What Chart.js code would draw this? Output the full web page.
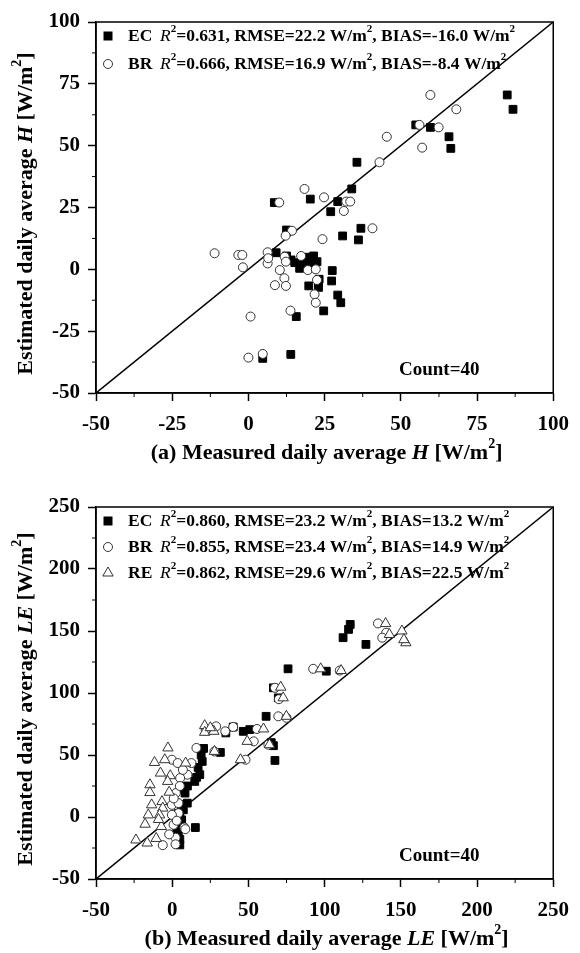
<!DOCTYPE html>
<html>
<head>
<meta charset="utf-8">
<script src="https://cdn.jsdelivr.net/npm/chart.js@4.4.0/dist/chart.umd.min.js"></script>
<style>
body { margin: 0; background: #fff; overflow: hidden; }
.panel { position: absolute; left: 0; }
</style>
</head>
<body>
<canvas id="chartH" class="panel" style="top:0" width="580" height="476"></canvas>
<canvas id="chartLE" class="panel" style="top:476px" width="580" height="477"></canvas>
<script>
// ---- panel (a): sensible heat H ----
var hTicks = [-50, -25, 0, 25, 50, 75, 100];
var hEcX = [84.9, 86.8, 54.9, 59.7, 65.8, 66.4, 35.6, 33.9, 20.3, 8.5, 29.3, 27, 36.9, 30.9, 36.1, 12.5, 9.1, 12.5, 15.2, 16.8,
            18.9, 21.4, 22.5, 27.5, 27.3, 23.2, 19.8, 23, 29.3, 30.3, 24.7, 15.7, 13.9, 4.7, 17.5, 20, 14, 21.5, 19, 23];
var hEcY = [70.5, 64.7, 58.4, 57.4, 53.6, 48.9, 43.3, 32.5, 28.4, 27, 27.4, 23.3, 16.6, 13.5, 11.9, 15.9, 6.7, 5.4, 2.7, 0.4,
            4.9, 5.4, 3.1, -0.5, -4.7, -4.0, -6.7, -7.3, -10.4, -13.5, -16.8, -19.1, -34.4, -36, 2.5, 3.5, 3.8, 1.5, 2, -5.5];
var hBrX = [59.7, 68.2, 56.1, 62.4, 57, 45.4, 43, 18.4, 24.8, 10.1, 32.1, 33.4, 31.3, 40.7, 24.3, 14.3, 12.2, -11.1, -3.3, -2,
            -1.8, 6.3, 6.3, 11.9, 17.3, 12.3, 10.3, 19.5, 22.1, 11.8, 22.5, 8.7, 12.3, 21.7, 22.1, 13.8, 0.7, 0, 4.7, 6.5];
var hBrY = [70.5, 64.7, 58.4, 57.4, 49.2, 53.6, 43.3, 32.5, 29.1, 27, 27.4, 27.4, 23.6, 16.6, 12.2, 15.6, 13.6, 6.5, 5.8, 5.8,
            0.8, 6.9, 2.4, 5.1, 5.4, 3.1, -0.3, -0.3, 0, -3.6, -4.3, -6.4, -6.7, -10.1, -13.5, -16.7, -19.1, -35.7, -34.2, 4.5];
var hNames = ['EC', 'BR'];
var hR2 = ['0.631', '0.666'];
var hRmse = ['22.2', '16.9'];
var hBias = ['-16.0', '-8.4'];

// ---- panel (b): latent heat LE ----
var leTicks = [-50, 0, 50, 100, 150, 200, 250];
var leEcX = [116.8, 115.7, 112.1, 127.1, 76, 101.1, 66.4, 69.6, 61.6, 46.6, 50.9, 40, 35.2, 66.4, 67.4, 20.6, 31.6, 19.7, 18.1, 14.8,
             8.4, 9.9, 7.3, 6.2, 15.2, 5, 5, 5, 4, 6, 3, 4, 5, 7, 10, 16, 17, 19, 65, 4];
var leEcY = [155.3, 151.3, 144.6, 139.2, 119.5, 117.6, 104.2, 96.1, 81.2, 69.1, 70.5, 72.6, 67.8, 57.5, 45.6, 55.3, 52.1, 44.8, 34.1, 28.7,
             19.3, 11.2, 5.8, -2.3, -8.5, -5, -22.5, 0, 3, 10, -10, -15, -18, 22, 25, 32, 40, 50, 60, -20];
var leBrX = [135, 140.4, 137.8, 92.5, 109.9, 67.4, 69.6, 28.8, 34.8, 40, 55.6, 53.5, 63.1, 15.9, 27.7, 48.1, -0.2, 3.6, 12.6, 10,
             5.2, 2.4, -0.2, 4.1, 4.1, -0.2, 8, 0.9, 8.6, -6.2, 2.2, 2.2, 70, 75, 22, 5, 1, 7, -2, 3];
var leBrY = [156.1, 148.6, 144.6, 119.5, 118.1, 104.2, 81.2, 73.1, 69.1, 72.6, 71, 61, 58.3, 55.7, 52.9, 46.2, 46.2, 43.5, 43.5, 34.1,
             31.4, 19.3, 9.8, 11.2, 3.1, 1.7, -8.5, -6.3, -9.8, -22.7, -16.7, -22, 95, 80, 70, 25, 15, 38, -14, -3];
var leReX = [140, 150.7, 142.5, 153.3, 152, 97.4, 110.8, 71.2, 72.8, 74.9, 21.3, 21.3, 27.3, 59.9, 49.2, 63.8, 27.7, 44.8, -2.8, -11.6,
             -4.9, 8.8, -7.7, -1.3, -3, -14.6, -14.6, -13.5, -6.7, -6.2, -15.7, -8.3, -17.8, -7.1, -23.8, -16.4, -10.5, -9, -2, 25];
var leReY = [156, 150, 147.2, 140.5, 143, 119.5, 118.1, 104.7, 96.1, 81.2, 73.7, 68.3, 69.1, 71, 61, 58.3, 52.9, 46.2, 55.7, 44,
             46.2, 43.5, 35.4, 33.3, 28.7, 26, 19.7, 9.8, 12.4, 7.2, 1.7, 1.7, -5.8, -7.7, -18.5, -21, -17.3, -2, 20, 72];
var leNames = ['EC', 'BR', 'RE'];
var leR2 = ['0.860', '0.855', '0.862'];
var leRmse = ['23.2', '23.4', '29.6'];
var leBias = ['13.2', '14.9', '22.5'];

var FONT = '"Liberation Serif", "Times New Roman", serif';

function pts(xs, ys) {
    return xs.map(function (x, i) { return {x: x, y: ys[i]}; });
}

function fontFor(style, size) {
    if (style === 'i') return 'italic bold ' + size + 'px ' + FONT;
    if (style === 'r') return 'italic ' + size + 'px ' + FONT;
    if (style === 's') return 'bold ' + Math.round(size * 0.62) + 'px ' + FONT;
    return 'bold ' + size + 'px ' + FONT;
}

// draws a list of [text, style] pieces one after another
function richText(ctx, x, y, parts, size, center) {
    var w = 0;
    parts.forEach(function (p) { ctx.font = fontFor(p[1], size); w += ctx.measureText(p[0]).width; });
    var cx = center ? x - w / 2 : x;
    parts.forEach(function (p) {
        ctx.font = fontFor(p[1], size);
        var dy = p[1] === 's' ? -size * 0.38 : 0;
        ctx.fillText(p[0], cx, y + dy);
        cx += ctx.measureText(p[0]).width;
    });
}

function drawMarker(ctx, style, x, y) {
    ctx.save();
    ctx.lineWidth = 1;
    if (style === 'rect') {
        ctx.fillStyle = '#000';
        ctx.fillRect(x - 4.5, y - 4.5, 9, 9);
    } else if (style === 'circle') {
        ctx.strokeStyle = '#333';
        ctx.beginPath(); ctx.arc(x, y, 4.5, 0, Math.PI * 2); ctx.stroke();
    } else {
        ctx.strokeStyle = '#333';
        ctx.beginPath();
        ctx.moveTo(x, y - 6); ctx.lineTo(x + 5.2, y + 3); ctx.lineTo(x - 5.2, y + 3);
        ctx.closePath(); ctx.stroke();
    }
    ctx.restore();
}

var overlay = {
    id: 'overlay',
    afterDraw: function (chart, args, o) {
        var ctx = chart.ctx, a = chart.chartArea;
        var xs = chart.scales.x, ys = chart.scales.y;
        ctx.save();
        ctx.strokeStyle = '#000';
        ctx.lineWidth = 1.5;
        ctx.strokeRect(a.left, a.top, a.right - a.left, a.bottom - a.top);

        // minor ticks half way between the labelled ones
        ctx.lineWidth = 1;
        for (var i = 0; i < o.ticks.length - 1; i++) {
            var mid = (o.ticks[i] + o.ticks[i + 1]) / 2;
            var px = xs.getPixelForValue(mid);
            ctx.beginPath(); ctx.moveTo(px, a.bottom); ctx.lineTo(px, a.bottom + 4); ctx.stroke();
            var py = ys.getPixelForValue(mid);
            ctx.beginPath(); ctx.moveTo(a.left, py); ctx.lineTo(a.left - 4, py); ctx.stroke();
        }

        // legend inside the frame
        ctx.fillStyle = '#000';
        ctx.textBaseline = 'middle';
        ctx.textAlign = 'left';
        o.names.forEach(function (name, k) {
            var y = a.top + 14 + k * o.rowGap;
            drawMarker(ctx, o.markers[k], a.left + 12, y);
            ctx.fillStyle = '#000';
            richText(ctx, a.left + 32, y, [[name, 'b']], 17.5, false);
            richText(ctx, a.left + 64, y, [
                ['R', 'r'], ['2', 's'], ['=' + o.r2[k] + ', RMSE=' + o.rmse[k] + ' W/m', 'b'], ['2', 's'],
                [', BIAS=' + o.bias[k] + ' W/m', 'b'], ['2', 's']
            ], 17.5, false);
        });

        richText(ctx, a.right - 114, a.bottom - 23, [['Count=40', 'b']], 19, true);

        // axis titles
        var xt = [['(' + o.tag + ') Measured daily average ', 'b'], [o.sym, 'i'], [' [W/m', 'b'], ['2', 's'], [']', 'b']];
        richText(ctx, (a.left + a.right) / 2 + 2, a.bottom + 60, xt, 22, true);
        var yt = [['Estimated daily average ', 'b'], [o.sym, 'i'], [' [W/m', 'b'], ['2', 's'], [']', 'b']];
        ctx.translate(26, (a.top + a.bottom) / 2 + 6);
        ctx.rotate(-Math.PI / 2);
        richText(ctx, 0, 0, yt, 22, true);
        ctx.restore();
    }
};

function axis(ticks, fitKey, fitVal, pad) {
    return {
        type: 'linear',
        min: ticks[0],
        max: ticks[ticks.length - 1],
        afterBuildTicks: function (s) { s.ticks = ticks.map(function (v) { return {value: v}; }); },
        afterFit: function (s) { s[fitKey] = fitVal; },
        ticks: {
            color: '#000',
            font: {family: FONT, size: 21, weight: 'bold'},
            padding: pad,
            autoSkip: false,
            maxRotation: 0
        },
        grid: {drawOnChartArea: false, drawTicks: true, tickLength: 8, tickWidth: 1.5, tickColor: '#000'},
        border: {display: true, color: '#000', width: 1.5}
    };
}

function makeChart(id, sets, ticks, xHeight, topPad, info) {
    var lo = ticks[0], hi = ticks[ticks.length - 1];
    var datasets = [];
    var styles = {
        EC: {pointStyle: 'rect', pointRadius: 5.5, backgroundColor: '#000', borderColor: '#000', borderWidth: 1},
        BR: {pointStyle: 'circle', pointRadius: 4.5, backgroundColor: '#fff', borderColor: '#333', borderWidth: 1},
        RE: {pointStyle: 'triangle', pointRadius: 6, backgroundColor: '#fff', borderColor: '#333', borderWidth: 1}
    };
    sets.forEach(function (s, k) {
        var st = styles[s.name];
        datasets.push(Object.assign({label: s.name, data: pts(s.x, s.y), order: sets.length - k,
            pointHoverRadius: st.pointRadius}, st));
    });
    datasets.push({
        label: '1:1', type: 'line', data: [{x: lo, y: lo}, {x: hi, y: hi}], order: 10,
        borderColor: '#000', borderWidth: 1.5, pointRadius: 0, fill: false
    });

    return new Chart(document.getElementById(id), {
        type: 'scatter',
        data: {datasets: datasets},
        options: {
            responsive: false,
            animation: false,
            devicePixelRatio: 1,
            layout: {padding: {top: topPad, right: 18, left: 0, bottom: 0}},
            scales: {
                x: axis(ticks, 'height', xHeight, 11),
                y: axis(ticks, 'width', 96, 8)
            },
            plugins: {
                legend: {display: false},
                tooltip: {enabled: false},
                overlay: info
            }
        },
        plugins: [overlay]
    });
}

makeChart('chartH',
    [{name: 'EC', x: hEcX, y: hEcY}, {name: 'BR', x: hBrX, y: hBrY}],
    hTicks, 83, 22,
    {ticks: hTicks, names: hNames, r2: hR2, rmse: hRmse, bias: hBias, markers: ['rect', 'circle'],
     rowGap: 28, tag: 'a', sym: 'H'});

makeChart('chartLE',
    [{name: 'EC', x: leEcX, y: leEcY}, {name: 'BR', x: leBrX, y: leBrY}, {name: 'RE', x: leReX, y: leReY}],
    leTicks, 74, 31,
    {ticks: leTicks, names: leNames, r2: leR2, rmse: leRmse, bias: leBias, markers: ['rect', 'circle', 'triangle'],
     rowGap: 26, tag: 'b', sym: 'LE'});
</script>
</body>
</html>
